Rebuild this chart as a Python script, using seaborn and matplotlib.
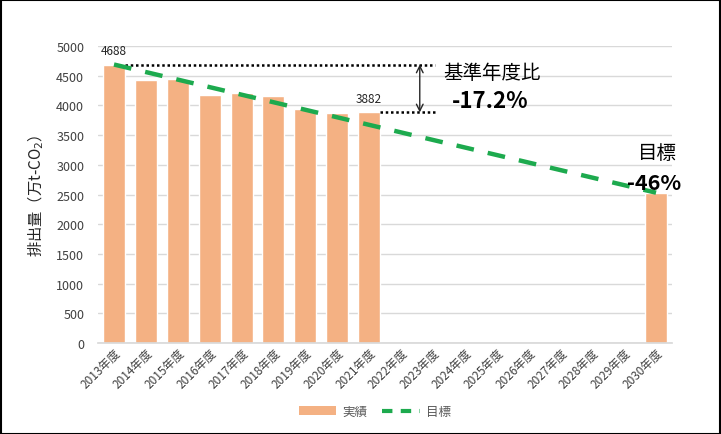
import matplotlib
matplotlib.use("Agg")
import matplotlib.pyplot as plt
import seaborn as sns
import pandas as pd
import numpy as np
from matplotlib.patches import Rectangle
from matplotlib.lines import Line2D
from matplotlib.patches import Patch

years = ["2013年度", "2014年度", "2015年度", "2016年度", "2017年度", "2018年度",
         "2019年度", "2020年度", "2021年度", "2022年度", "2023年度", "2024年度",
         "2025年度", "2026年度", "2027年度", "2028年度", "2029年度", "2030年度"]
actual = [4688, 4433, 4436, 4180, 4214, 4163, 3944, 3874, 3882,
          np.nan, np.nan, np.nan, np.nan, np.nan, np.nan, np.nan, np.nan, 2531]
target_years = ["2013年度", "2030年度"]
target_values = [4688, 2531]
base_label = "基準年度比"
base_change = "-17.2%"
goal_label = "目標"
goal_change = "-46%"

sns.set_theme(style="white")
plt.rcParams['font.family'] = ['Noto Sans CJK JP', 'DejaVu Sans']

fig = plt.figure(figsize=(7.21, 4.35), dpi=100)
ax = fig.add_axes([0.136, 0.209, 0.796, 0.683])

df = pd.DataFrame({"year": years, "value": actual})
bar_color = "#F4B183"
sns.barplot(data=df, x="year", y="value", order=years, color=bar_color,
            saturation=1, width=0.69, ax=ax, zorder=2)

pos = {y: i for i, y in enumerate(years)}
tdf = pd.DataFrame({"x": [pos[y] for y in target_years], "v": target_values})
green = "#1DAA4E"
sns.lineplot(data=tdf, x="x", y="v", ax=ax, color=green, lw=3.2,
             linestyle=(0, (4, 3.2)), zorder=4)

ax.set_xlim(-0.5, len(years) - 0.5)
ax.set_ylim(0, 5000)
ax.set_yticks(range(0, 5001, 500))
ax.yaxis.grid(True, color="#D9D9D9", lw=1)
ax.set_axisbelow(True)
for s in ["top", "right", "left"]:
    ax.spines[s].set_visible(False)
ax.spines["bottom"].set_color("#D9D9D9")
ax.tick_params(axis="y", labelsize=9, colors="#404040", length=0, pad=10)
ax.tick_params(axis="x", labelsize=8.5, colors="#404040", length=0, pad=2)
plt.setp(ax.get_xticklabels(), rotation=45, ha="right", rotation_mode="anchor")
ax.set_xlabel("")
ax.set_ylabel("排出量（万t-CO$_2$）", fontsize=11, color="#262626", labelpad=7)

# value labels
ax.text(0, actual[0] + 120, "4688", ha="center", va="bottom", fontsize=8.5, color="#262626")
ax.text(8, actual[8] + 120, "3882", ha="center", va="bottom", fontsize=8.5, color="#262626")

# dotted reference lines
ax.plot([0.35, 10.06], [actual[0], actual[0]], color="black", lw=1.8,
        linestyle=(0, (1, 1.1)), zorder=3)
ax.plot([8.35, 10.06], [actual[8], actual[8]], color="black", lw=1.8,
        linestyle=(0, (1, 1.1)), zorder=3)
ax.annotate("", xy=(9.59, actual[8]), xytext=(9.59, actual[0]),
            arrowprops=dict(arrowstyle="<->", color="#262626", lw=1,
                            shrinkA=0, shrinkB=0))

ax.text(11.85, 4560, base_label, ha="center", va="center", fontsize=14, color="black")
ax.text(11.8, 4075, base_change, ha="center", va="center", fontsize=16,
        fontweight="bold", color="black")
ax.text(17.05, 3200, goal_label, ha="center", va="center", fontsize=14, color="black")
ax.text(16.95, 2710, goal_change, ha="center", va="center", fontsize=15.5,
        fontweight="bold", color="black", zorder=5)

handles = [Patch(facecolor=bar_color, edgecolor="none", label="実績"),
           Line2D([0], [0], color=green, lw=3, linestyle=(0, (2.5, 2)), label="目標")]
leg = fig.legend(handles=handles, loc="center", bbox_to_anchor=(0.52, 0.052), ncol=2,
                 frameon=False, fontsize=9, handlelength=3, columnspacing=1.2,
                 handletextpad=0.5)
for t in leg.get_texts():
    t.set_color("#595959")

fig.patches.append(Rectangle((0.001, 0.001), 0.997, 0.996, transform=fig.transFigure,
                             fill=False, edgecolor="black", lw=1.5))

fig.savefig("out.png", dpi=100)
